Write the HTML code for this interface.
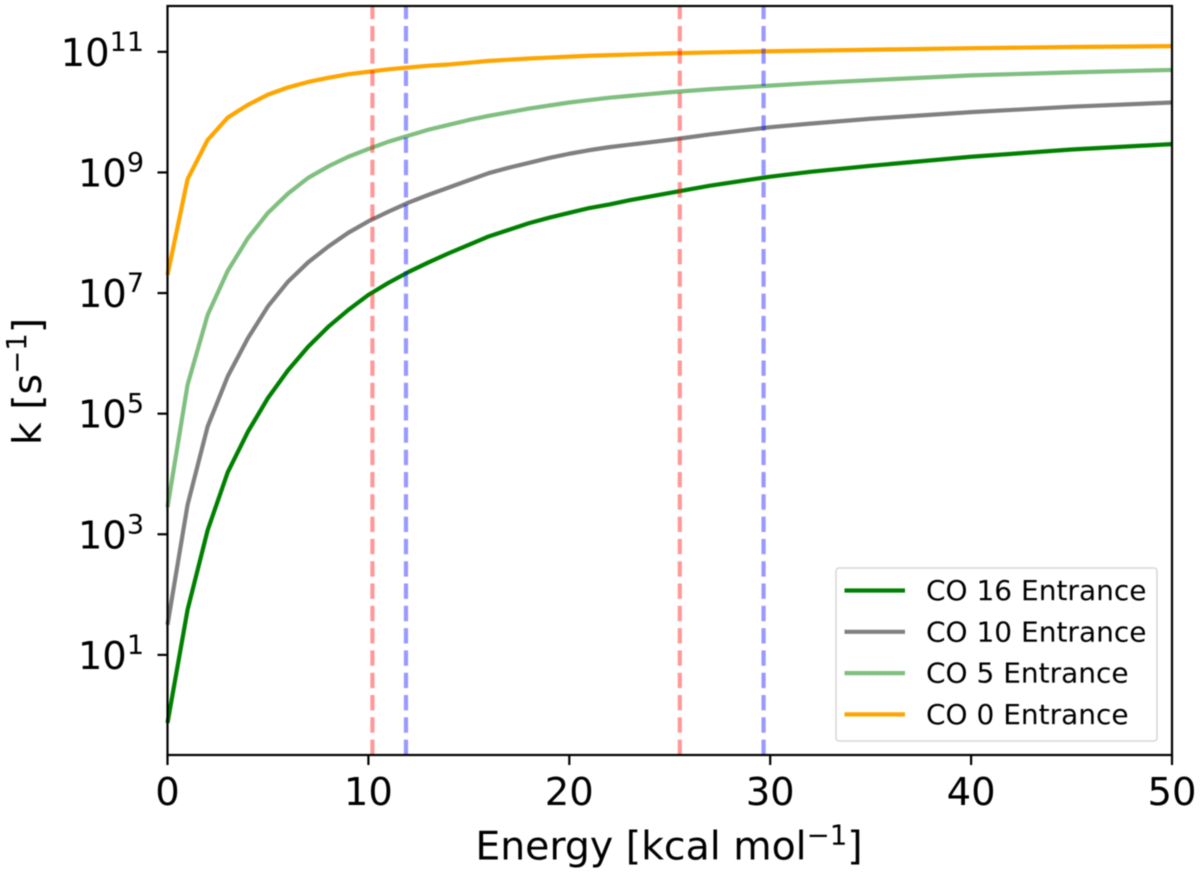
<!DOCTYPE html>
<html lang="en">
<head>
<meta charset="utf-8">
<title>k vs Energy</title>
<style>
html,body{margin:0;padding:0;background:#fff;}
#wrap{position:relative;width:1200px;height:873px;overflow:hidden;}
svg{display:block;font-family:"DejaVu Sans","Liberation Sans",sans-serif;fill:#000;filter:blur(0.45px);}
.series{fill:none;stroke-width:4.2;stroke-linejoin:round;}
.c0{stroke:#008000;}
.c1{stroke:#808080;}
.c2{stroke:#008000;stroke-opacity:.5;}
.c3{stroke:#ffa500;}
.ref{stroke-width:4.2;stroke-opacity:.4;stroke-dasharray:15.4 6.9;fill:none;}
.ref-red{stroke:#ff0000;}
.ref-blue{stroke:#0000ff;}
.spine{stroke:#000;stroke-width:2.2;fill:none;}
.tick{stroke:#000;stroke-width:2.2;}
.tl{font-size:38.5px;}
.al{font-size:39.4px;}
.sup{font-size:27.6px;}
.tsup{font-size:27px;}
.leg{font-size:28px;}
</style>
</head>
<body>
<div id="wrap">
<svg id="chart" width="1200" height="873" viewBox="0 0 1200 873" xmlns="http://www.w3.org/2000/svg">
  <text class="al" x="669" y="859.5" text-anchor="middle">Energy [kcal mol<tspan class="sup" dy="-15">−1</tspan><tspan dy="15">]</tspan></text>
  <text class="al" transform="translate(41,381.5) rotate(-90)" text-anchor="middle">k [s<tspan class="sup" dy="-15">−1</tspan><tspan dy="15">]</tspan></text>
</svg>
</div>
<script>
var energy = [0,1,2,3,4,5,6,7,8,9,10,11,12,13,14,15,16,17,18,19,20,21,22,23,24,25,27,30,32,35,40,45,50];
var co16 = [-0.13,1.75,3.07,4.03,4.70,5.26,5.72,6.11,6.44,6.72,6.97,7.17,7.35,7.51,7.66,7.80,7.94,8.05,8.16,8.25,8.33,8.41,8.47,8.54,8.60,8.66,8.78,8.93,9.01,9.11,9.26,9.38,9.47];
var co10 = [1.50,3.49,4.79,5.62,6.25,6.78,7.19,7.51,7.77,8.00,8.19,8.35,8.50,8.63,8.75,8.87,8.99,9.08,9.16,9.24,9.31,9.37,9.42,9.46,9.50,9.54,9.63,9.75,9.81,9.89,10.00,10.09,10.16];
var co5 = [3.45,5.48,6.64,7.37,7.91,8.33,8.65,8.91,9.10,9.26,9.39,9.51,9.61,9.71,9.79,9.87,9.94,10.00,10.06,10.11,10.16,10.20,10.24,10.27,10.30,10.33,10.38,10.44,10.48,10.53,10.61,10.66,10.70];
var co0 = [7.30,8.89,9.54,9.91,10.12,10.29,10.41,10.50,10.57,10.63,10.67,10.71,10.74,10.77,10.79,10.82,10.85,10.87,10.89,10.905,10.92,10.935,10.945,10.955,10.965,10.975,10.99,11.01,11.02,11.035,11.06,11.08,11.095];
var seriesNames = ["CO 16 Entrance","CO 10 Entrance","CO 5 Entrance","CO 0 Entrance"];
var xTicks = [0,10,20,30,40,50];
var yTickExponents = [1,3,5,7,9,11];
var redLines = [10.2,25.5];
var blueLines = [11.87,29.67];

var NS = "http://www.w3.org/2000/svg";
var svg = document.getElementById("chart");
var plot = {left:167.5,right:1172,top:6,bottom:755};
var xMin = 0, xMax = 50;
var yMin = -0.66, yMax = 11.76;
function xScale(v){return plot.left+(v-xMin)/(xMax-xMin)*(plot.right-plot.left);}
function yScale(v){return plot.bottom-(v-yMin)/(yMax-yMin)*(plot.bottom-plot.top);}
function make(tag,attrs,parent){
  var el=document.createElementNS(NS,tag);
  for(var k in attrs){el.setAttribute(k,attrs[k]);}
  (parent||svg).appendChild(el);
  return el;
}
var allSeries=[co16,co10,co5,co0];
var seriesKeys=["co-16","co-10","co-5","co-0"];

allSeries.forEach(function(vals,i){
  var pts=vals.map(function(v,j){return xScale(energy[j]).toFixed(2)+","+yScale(v).toFixed(2);}).join(" ");
  var el=make("polyline",{points:pts,"class":"series c"+i});
  
  
});

function drawRef(val,cls,name){
  var el=make("line",{x1:xScale(val),x2:xScale(val),y1:plot.bottom,y2:plot.top,"class":"ref "+cls});
  
  
}
redLines.forEach(function(v){drawRef(v,"ref-red","red-reference-line");});
blueLines.forEach(function(v){drawRef(v,"ref-blue","blue-reference-line");});

var frame=make("rect",{x:plot.left,y:plot.top,width:plot.right-plot.left,height:plot.bottom-plot.top,"class":"spine"});



xTicks.forEach(function(t){
  var x=xScale(t);
  var tk=make("line",{x1:x,x2:x,y1:plot.bottom,y2:plot.bottom+10,"class":"tick"});
  
  
  var lb=make("text",{x:x,y:805,"text-anchor":"middle","class":"tl"});
  
  
  lb.textContent=String(t);
});

yTickExponents.forEach(function(e){
  var y=yScale(e);
  var tk=make("line",{x1:plot.left-10,x2:plot.left,y1:y,y2:y,"class":"tick"});
  
  
  var lb=make("text",{x:144,y:y+14,"text-anchor":"end","class":"tl"});
  
  
  lb.appendChild(document.createTextNode("10"));
  var sup=make("tspan",{"class":"tsup",dy:-15},lb);
  sup.textContent=String(e);
});

var legendBox=make("rect",{x:836,y:568,width:321,height:173,rx:3,ry:3,fill:"#fff","fill-opacity":0.8,stroke:"#d8d8d8","stroke-width":1.6});


seriesNames.forEach(function(name,i){
  var y=590.5+i*41.3;
  var ln=make("line",{x1:844.5,x2:905,y1:y,y2:y,"class":"series c"+i});
  
  
  var tx=make("text",{x:926,y:y+9.5,"class":"leg"});
  
  
  tx.textContent=name;
});
</script>
</body>
</html>
